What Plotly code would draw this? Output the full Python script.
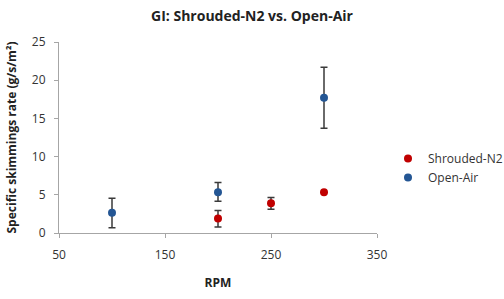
import plotly.graph_objects as go

rpm_shrouded = [200, 250, 300]
rate_shrouded = [1.9, 3.9, 5.35]
err_plus_shrouded = [1.05, 0.75, 0]
err_minus_shrouded = [1.1, 0.8, 0]

rpm_open = [100, 200, 300]
rate_open = [2.65, 5.35, 17.7]
err_plus_open = [1.9, 1.25, 4.0]
err_minus_open = [1.95, 1.2, 4.0]

x_ticks = [50, 150, 250, 350]
y_ticks = [0, 5, 10, 15, 20, 25]

red = "#C00000"
blue = "#245694"
err_color = "#3a3a3a"
font = "Open Sans"

fig = go.Figure()
fig.add_trace(go.Scatter(
    x=rpm_shrouded, y=rate_shrouded, mode="markers", name="Shrouded-N2",
    marker=dict(color=red, size=8),
    error_y=dict(type="data", symmetric=False, array=err_plus_shrouded,
                 arrayminus=err_minus_shrouded, color=err_color, thickness=1.5, width=3.5),
))
fig.add_trace(go.Scatter(
    x=rpm_open, y=rate_open, mode="markers", name="Open-Air",
    marker=dict(color=blue, size=8),
    error_y=dict(type="data", symmetric=False, array=err_plus_open,
                 arrayminus=err_minus_open, color=err_color, thickness=1.5, width=3.5),
))

fig.update_layout(
    width=504, height=299,
    margin=dict(l=59, r=127, t=42, b=66, autoexpand=False),
    paper_bgcolor="white", plot_bgcolor="white",
    font=dict(family=font, size=12, color="#333333"),
    title=dict(text="<b>GI: Shrouded-N2 vs. Open-Air</b>", x=0.5, xanchor="center",
               y=1 - 16/299, yanchor="middle", font=dict(size=14, color="#222222")),
    legend=dict(xref="container", yref="container", x=388/504, y=1 - 168/299,
                xanchor="left", yanchor="middle", font=dict(size=12),
                traceorder="normal", itemwidth=30, bgcolor="rgba(0,0,0,0)"),
    showlegend=True,
)
fig.update_xaxes(
    range=[50, 350], tickvals=x_ticks, showgrid=False, zeroline=False,
    showline=True, linecolor="#a6a6a6", linewidth=1,
    ticks="outside", tickcolor="#a6a6a6", ticklen=4, ticklabelstandoff=7,
    title=dict(text="<b>RPM</b>", standoff=16, font=dict(size=12, color="#222222")),
)
fig.update_yaxes(
    range=[0, 25], tickvals=y_ticks, showgrid=False, zeroline=False,
    showline=True, linecolor="#a6a6a6", linewidth=1,
    ticks="outside", tickcolor="#a6a6a6", ticklen=4, ticklabelstandoff=6,
    title=dict(text="<b>Specific skimmings rate (g/s/m²)</b>", standoff=12,
               font=dict(size=12, color="#222222")),
)

fig.write_html("out.html")
